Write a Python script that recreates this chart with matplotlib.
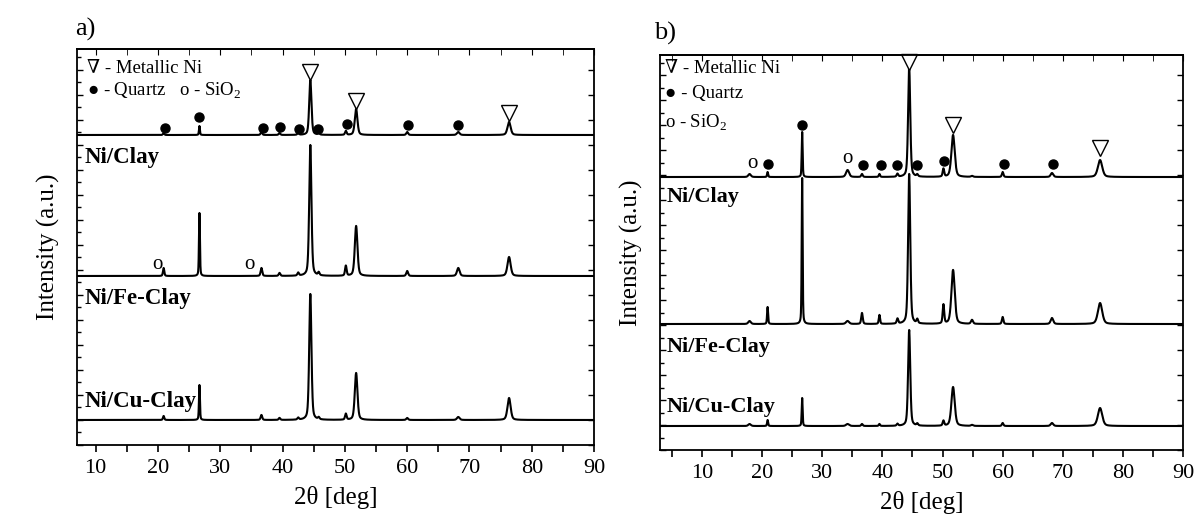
import numpy as np
import matplotlib
matplotlib.use("Agg")
import matplotlib.pyplot as plt
from matplotlib.ticker import MultipleLocator

plt.rcParams['font.family'] = ['Liberation Serif', 'DejaVu Serif']
plt.rcParams['mathtext.fontset'] = 'custom'
plt.rcParams['mathtext.rm'] = 'Liberation Serif'

# ---- panel a) peak table (2theta, FWHM) and peak heights per sample ----
a_pos = [20.9, 26.65, 36.6, 39.5, 42.5, 44.45, 45.8, 50.15, 51.8, 60.0, 68.2, 76.35]
a_fwhm = [0.25, 0.18, 0.3, 0.3, 0.3, 0.42, 0.3, 0.3, 0.5, 0.35, 0.5, 0.6]
a_ni_clay = [2, 9, 3, 2, 2, 55, 2, 4, 26, 3, 3, 13]
a_ni_fe = [8, 63, 8, 3, 3, 131, 3, 10, 50, 5, 8, 19]
a_ni_cu = [4, 35, 5, 2, 2, 126, 2, 6, 47, 2, 3, 22]
a_offsets = [310, 169, 25]

# phase markers in panel a)
a_ni_marks = [44.45, 51.8, 76.35]
a_ni_marks_y = [373, 344, 332]
a_qz_marks = [21.2, 26.65, 36.8, 39.6, 42.6, 45.7, 50.4, 60.1, 68.2]
a_qz_marks_y = [317, 328, 317, 318, 316, 316, 321, 320, 320]
a_si_marks = [19.9, 34.6]
a_si_marks_y = [180, 180]

# ---- panel b) ----
b_pos = [17.9, 20.9, 26.65, 34.2, 36.6, 39.5, 42.5, 44.45, 45.8, 50.15, 51.75, 54.9, 60.0, 68.2, 76.2]
b_fwhm = [0.5, 0.2, 0.18, 0.6, 0.3, 0.25, 0.3, 0.42, 0.3, 0.3, 0.65, 0.4, 0.3, 0.5, 0.85]
b_ni_clay = [3, 5, 45, 7, 3, 3, 3, 110, 2, 8, 42, 1, 5, 4, 17]
b_ni_fe = [3, 17, 146, 3, 11, 9, 5, 150, 4, 19, 54, 4, 7, 6, 21]
b_ni_cu = [2, 6, 28, 2, 2, 2, 2, 96, 2, 5, 39, 1, 3, 3, 18]
b_offsets = [273, 126, 24]

b_ni_marks = [44.45, 51.75, 76.2]
b_ni_marks_y = [388, 325, 302]
b_qz_marks = [20.9, 26.65, 36.7, 39.8, 42.5, 45.8, 50.3, 60.2, 68.3]
b_qz_marks_y = [286, 325, 285, 285, 285, 285, 289, 286, 286]
b_si_marks = [18.3, 34.2]
b_si_marks_y = [287, 292]

sample_names = ['Ni/Clay', 'Ni/Fe-Clay', 'Ni/Cu-Clay']


def pattern(tt, pos, fwhm, heights, base):
    # pseudo-Voigt peaks on a flat baseline
    y = np.full_like(tt, float(base))
    for p, w, h in zip(pos, fwhm, heights):
        g = np.exp(-4 * np.log(2) * ((tt - p) / w) ** 2)
        l = 1 / (1 + 4 * ((tt - p) / w) ** 2)
        y += h * (0.6 * g + 0.4 * l)
    return y


def draw_panel(ax, xlim, ylim, pos, fwhm, samples, offsets, ni, ni_y, qz, qz_y, si, si_y,
               legend_lines, legend_xy, label_xy, label_size):
    tt = np.arange(xlim[0], xlim[1] + 0.005, 0.01)
    for h, off in zip(samples, offsets):
        ax.plot(tt, pattern(tt, pos, fwhm, h, off), color='black', lw=1.5)

    ax.plot(ni, ni_y, linestyle='none', marker='v', ms=12, mfc='white', mec='black',
            mew=1.0, clip_on=False)
    ax.plot(qz, qz_y, linestyle='none', marker='o', ms=6.5, color='black')
    for x, y in zip(si, si_y):
        ax.text(x, y, 'o', ha='center', va='center', fontsize=15)

    for txt, (tx, ty) in zip(legend_lines, legend_xy):
        ax.text(tx, ty, txt, transform=ax.transAxes, fontsize=13.5, va='center', ha='left')

    for name, (lx, ly) in zip(sample_names, label_xy):
        ax.text(lx, ly, name, transform=ax.transAxes, fontsize=label_size,
                fontweight='bold', va='center', ha='left')

    ax.set_xlim(*xlim)
    ax.set_ylim(*ylim)
    ax.xaxis.set_major_locator(MultipleLocator(10))
    ax.xaxis.set_minor_locator(MultipleLocator(5))
    ax.yaxis.set_major_locator(MultipleLocator(25))
    ax.yaxis.set_minor_locator(MultipleLocator(12.5))
    ax.tick_params(axis='x', which='both', direction='out', labelsize=16, width=1.2)
    ax.tick_params(axis='x', which='major', length=5, pad=5)
    ax.tick_params(axis='x', which='minor', length=5)
    ax.tick_params(axis='y', which='both', direction='in', right=True, labelleft=False, width=1.0)
    ax.tick_params(axis='y', which='major', length=4)
    ax.tick_params(axis='y', which='minor', length=3, right=False)
    top = ax.secondary_xaxis('top')
    top.xaxis.set_major_locator(MultipleLocator(10))
    top.xaxis.set_minor_locator(MultipleLocator(5))
    top.tick_params(which='both', direction='in', length=4, labeltop=False)
    top.spines['top'].set_linewidth(1.3)
    for s in ax.spines.values():
        s.set_linewidth(1.3)
    ax.set_xlabel('2θ [deg]', fontsize=18, labelpad=6)
    ax.set_ylabel('Intensity (a.u.)', fontsize=18, labelpad=12)


fig = plt.figure(figsize=(11.98, 5.24), dpi=100)
ax1 = fig.add_axes([0.0643, 0.1508, 0.4316, 0.7557])
ax2 = fig.add_axes([0.5509, 0.1412, 0.4366, 0.7538])

draw_panel(ax1, (7, 90), (0, 396), a_pos, a_fwhm, [a_ni_clay, a_ni_fe, a_ni_cu], a_offsets,
           a_ni_marks, a_ni_marks_y, a_qz_marks, a_qz_marks_y, a_si_marks, a_si_marks_y,
           ['∇ - Metallic Ni', '● - Quartz   o - SiO$_2$'],
           [(0.019, 0.95), (0.019, 0.895)],
           [(0.014, 0.727), (0.014, 0.369), (0.014, 0.109)], 16.5)

draw_panel(ax2, (3, 90), (0, 395), b_pos, b_fwhm, [b_ni_clay, b_ni_fe, b_ni_cu], b_offsets,
           b_ni_marks, b_ni_marks_y, b_qz_marks, b_qz_marks_y, b_si_marks, b_si_marks_y,
           ['∇ - Metallic Ni', '● - Quartz', 'o - SiO$_2$'],
           [(0.01, 0.965), (0.01, 0.902), (0.01, 0.828)],
           [(0.013, 0.64), (0.013, 0.261), (0.013, 0.109)], 16)

fig.text(0.063, 0.943, 'a)', fontsize=19, ha='left', va='center')
fig.text(0.546, 0.937, 'b)', fontsize=19, ha='left', va='center')

fig.savefig('out.png', dpi=100)
